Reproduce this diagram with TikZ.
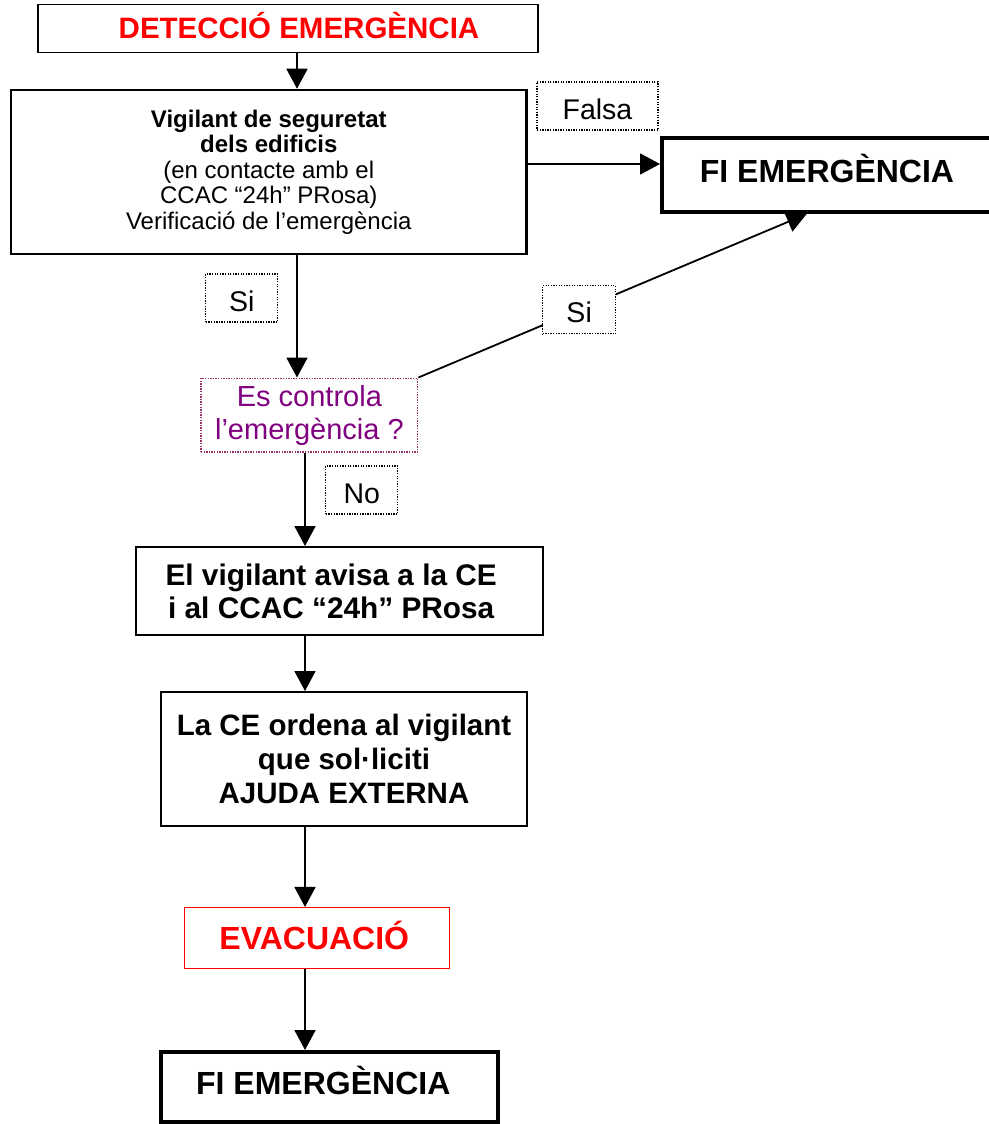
\documentclass[tikz,border=0pt]{standalone}
\usepackage{fontspec}
\setmainfont{Liberation Sans}
\usetikzlibrary{arrows.meta}
\definecolor{alarmred}{RGB}{255,0,0}
\definecolor{askpurple}{RGB}{128,0,128}
\definecolor{askframe}{RGB}{153,51,102}
\tikzstyle{block} = [draw, fill=white, rectangle, inner sep=0pt, align=center]
\tikzstyle{lbl} = [draw, fill=white, rectangle, inner sep=0pt, line width=1.3pt, dash pattern=on 1.3pt off 1.3pt, minimum height=48pt, font=\fontsize{28.5}{33}\selectfont, text height=26pt, text depth=0pt]
\tikzstyle{bigbold} = [font=\fontsize{32}{36}\selectfont\bfseries]
\newcommand{\ccac}{CCAC “24h” PRosa}

\begin{document}
\begin{tikzpicture}[x=1pt, y=-1pt, >={Triangle[length=20pt, width=21pt]}, line width=1.8pt]
  \useasboundingbox (0,0) rectangle (988,1124);
  \coordinate (spine) at (297,0);
  \coordinate (stem) at (305,0);
  \coordinate (falsay) at (0,164);
  \coordinate (tip) at (806.7,0);
  \node [block, line width=1.6pt, minimum width=500pt, minimum height=48pt, text=alarmred, font=\fontsize{29.5}{33}\selectfont\bfseries, text height=21pt, text depth=0pt] (detec) at (288,28.5) {\hspace*{22pt}DETECCIÓ EMERGÈNCIA};
  \node [block, line width=2.5pt, minimum width=515.7pt, minimum height=164pt, font=\fontsize{24}{25.5}\selectfont] (vig) at (268.8,172) {\textbf{Vigilant de seguretat}\\ \textbf{dels edificis}\\ (en contacte amb el\\ \ccac)\\ Verificació de l’emergència};
  \node [block, bigbold, line width=4pt, minimum width=330pt, minimum height=74pt, text height=23pt, text depth=8pt] (fi1) at (827,175) {FI EMERGÈNCIA};
  \node [block, draw=askframe, line width=1.3pt, dash pattern=on 1.3pt off 1.3pt, text=askpurple, minimum width=216.7pt, minimum height=73.7pt, font=\fontsize{29}{33}\selectfont] (ctrl) at (309.4,415) {Es controla\\ l’emergència ?};
  \node [block, line width=2pt, minimum width=407pt, minimum height=88pt, font=\fontsize{29.8}{33}\selectfont\bfseries] (avisa) at (339.2,591) {\hspace*{-16pt}El vigilant avisa a la CE\\ \hspace*{-16pt}i al \ccac};
  \node [block, line width=2pt, minimum width=366.6pt, minimum height=134pt, font=\fontsize{29.5}{34}\selectfont\bfseries] (ordena) at (344,759) {La CE ordena al vigilant\\ que sol·liciti\\ AJUDA EXTERNA};
  \node [block, bigbold, draw=alarmred, line width=1.5pt, text=alarmred, minimum width=265pt, minimum height=60.6pt, text height=23pt, text depth=0pt] (evac) at (316.8,938) {\hspace*{-5pt}EVACUACIÓ};
  \node [block, bigbold, line width=4pt, minimum width=336.7pt, minimum height=70pt, text height=23pt, text depth=9pt] (fi2) at (329.3,1087) {\hspace*{-12pt}FI EMERGÈNCIA};
  \draw [->] (detec.south -| spine) -- (vig.north -| spine);
  \draw [->] (vig.east |- falsay) -- (fi1.west |- falsay);
  \draw [->] (vig.south -| spine) -- (ctrl.north -| spine);
  \draw [->] (ctrl.north east) -- node [lbl, minimum width=73pt, pos=0.414] (siB) {Si} (fi1.south -| tip);
  \draw [->] (ctrl.south -| stem) -- (avisa.north -| stem);
  \draw [->] (avisa.south -| stem) -- (ordena.north -| stem);
  \draw [->] (ordena.south -| stem) -- (evac.north -| stem);
  \draw [->] (evac.south -| stem) -- (fi2.north -| stem);
  \node [lbl, minimum width=121pt] (falsa) at (597.5,106) {Falsa};
  \node [lbl, minimum width=72pt] (siA) at (241.8,298) {Si};
  \node [lbl, minimum width=72pt] (no) at (361.8,490) {No};
\end{tikzpicture}
\end{document}
